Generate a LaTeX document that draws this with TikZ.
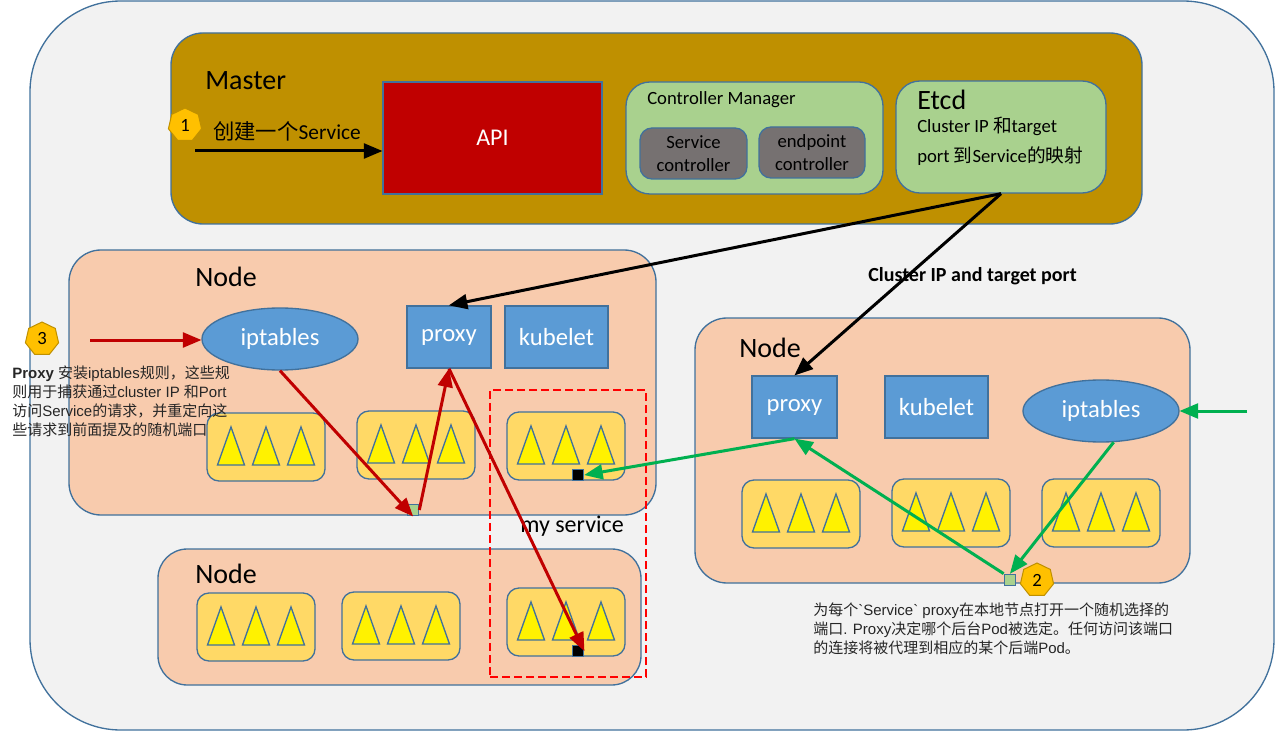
\documentclass[tikz,border=0pt]{standalone}
\usepackage{fontspec}
\setmainfont{Carlito}
\newfontfamily\cjk{Noto Sans CJK SC}
\newfontfamily\arialfont{Liberation Sans}
\usetikzlibrary{arrows,shapes.geometric}
\definecolor{lineblue}{HTML}{41719C}
\definecolor{panelgrey}{HTML}{F2F2F2}
\definecolor{masterfill}{HTML}{BF9000}
\definecolor{nodefill}{HTML}{F8CBAD}
\definecolor{ctrlfill}{HTML}{A9D18E}
\definecolor{darkfill}{HTML}{767171}
\definecolor{apired}{HTML}{C00000}
\definecolor{boxblue}{HTML}{5B9BD5}
\definecolor{podfill}{HTML}{FFD966}
\definecolor{flowgreen}{HTML}{00B050}
\definecolor{badgefill}{HTML}{FFC000}
\definecolor{badgeline}{HTML}{BF9000}
\tikzset{
  spanbox/.style n args={4}{at={({(#1+#3)/2},{(#2+#4)/2})},minimum width={(#3-#1)*0.75pt},minimum height={(#4-#2)*0.75pt}},
  shape box/.style={draw=lineblue,line width=1pt,inner sep=0pt,rectangle},
  node box/.style={shape box,fill=nodefill,rounded corners=24pt},
  inner box/.style={shape box,fill=ctrlfill,rounded corners=18pt},
  grey box/.style={shape box,fill=darkfill,rounded corners=9pt,text=black,align=center,font=\fontsize{14}{17}\selectfont},
  pod box/.style={shape box,fill=podfill,rounded corners=9pt},
  blue box/.style={shape box,fill=boxblue,text=white,font=\fontsize{18.5}{22}\selectfont},
  blue oval/.style={draw=lineblue,line width=1pt,fill=boxblue,ellipse,inner sep=0pt,minimum width=117pt,minimum height=46.5pt,text=white,font=\fontsize{18.5}{22}\selectfont},
  pod tri/.style={draw=lineblue,line width=1pt,fill=yellow,line join=miter},
  port box/.style={shape box,minimum size=8.5pt},
  badge/.style={regular polygon,regular polygon sides=7,minimum size=25.5pt,inner sep=0pt,fill=badgefill,draw=badgeline,line width=.75pt,font=\fontsize{14}{16}\selectfont},
  label/.style={inner sep=0pt,anchor=west},
  big label/.style={label,font=\fontsize{21}{25}\selectfont},
  note/.style={inner sep=0pt,anchor=north west,align=left,text=black!85,font=\arialfont\fontsize{11.25}{14.25}\selectfont},
  flow/.style={->,line width=2.25pt},
}
\begin{document}
\begin{tikzpicture}[>=triangle 45,x=0.75pt,y=-0.75pt]
\useasboundingbox (0,0) rectangle (1275,731);
\node[shape box,fill=panelgrey,rounded corners=68pt,spanbox={30}{1}{1274}{730}] (panel) {};
% master
\node[node box,fill=masterfill,spanbox={171}{33}{1142}{224}] (master) {};
\node[big label] (mastertxt) at (205,81) {Master};
\node[shape box,fill=apired,text=white,font=\fontsize{18}{22}\selectfont,spanbox={383}{82}{602}{194}] (api) {API};
\node[inner box,spanbox={626}{82}{883}{194}] (manager) {};
\node[label,font=\fontsize{14}{17}\selectfont] (managertxt) at (647,100) {Controller Manager};
\node[grey box,spanbox={640}{128}{747}{179}] (svcctrl) {Service\\controller};
\node[grey box,spanbox={759}{127}{865}{178}] (epctrl) {endpoint\\controller};
\node[inner box,spanbox={896}{81}{1106}{193}] (etcd) {};
\node[big label] (etcdtxt) at (917,100) {Etcd};
\node[inner sep=0pt,anchor=north west,align=left,font=\fontsize{14}{22.5}\selectfont] (etcdnote) at (917,117) {Cluster IP {\cjk 和}target\\port {\cjk 到}Service{\cjk 的映射}};
\node[label,font=\fontsize{16}{19}\selectfont] (createtxt) at (213,131) {{\cjk 创建一个}Service};
% nodes
\node[node box,spanbox={69}{250}{656}{515}] (nodea) {};
\node[node box,rounded corners=22pt,spanbox={158}{549}{641}{685}] (nodeb) {};
\node[node box,spanbox={695}{318}{1190}{583}] (nodec) {};
\node[big label] (nodeatxt) at (195,277) {Node};
\node[big label] (nodebtxt) at (195,574) {Node};
\node[big label] (nodectxt) at (739,348) {Node};
\node[blue oval] (iptablesa) at (280,339) {iptables};
\node[blue box,spanbox={407}{306}{491}{368}] (proxya) {proxy};
\node[blue box,spanbox={505}{306}{608}{368}] (kubeleta) {kubelet};
\node[blue box,spanbox={752}{376}{837}{438}] (proxyc) {proxy};
\node[blue box,spanbox={885}{376}{988}{438}] (kubeletc) {kubelet};
\node[blue oval] (iptablesc) at (1101,411) {iptables};
% pods
\foreach \podname/\podl/\podt in {poda/207/413,podb/357/411,podc/507/412,podd/197/593,pode/342/592,podf/507/588,podg/742/480,podh/892/479,podi/1042/479}{
  \node[pod box,spanbox={\podl}{\podt}{\podl+118}{\podt+68}] (\podname) {};
  \foreach \tx in {-35,0,35}
    \draw[pod tri] ([shift={(\tx,-20)}]\podname.center) -- ([shift={(\tx+13.5,18)}]\podname.center) -- ([shift={(\tx-13.5,18)}]\podname.center) -- cycle;
}
% ports
\node[port box,fill=ctrlfill!50!green!70!black!90,fill=ctrlfill] (porta) at (413,510) {};
\node[port box,fill=black] (portb) at (578,475) {};
\node[port box,fill=black] (portc) at (578,651) {};
\node[port box,fill=ctrlfill] (portd) at (1010,580) {};
\node[draw=red,line width=1.5pt,dash pattern=on 6pt off 3pt,inner sep=0pt,rectangle,spanbox={490}{390}{646}{677}] (svcbox) {};
\node[inner sep=0pt,font=\fontsize{18}{22}\selectfont] (svctxt) at (572,526) {my service};
% flows
\coordinate (createstart) at (195,151);
\coordinate (redstart) at (90,340);
\coordinate (greenstart) at (1247,411);
\draw[flow] (createstart) -- (createstart -| api.west);
\draw[flow] (etcd.south) -- (proxya.north);
\draw[flow] (etcd.south) -- (proxyc.north);
\draw[flow,apired] (redstart) -- (iptablesa.west |- redstart);
\draw[flow,apired] (iptablesa.south) -- (porta.south);
\draw[flow,apired] (porta.east) -- (proxya.south);
\draw[flow,apired] (proxya.south) -- (portc.east);
\draw[flow,flowgreen] (proxyc.south) -- (portb.east);
\draw[flow,flowgreen] (portd.north west) -- (proxyc.south);
\draw[flow,flowgreen] (iptablesc.292) -- (portd.north);
\draw[flow,flowgreen] (greenstart) -- (iptablesc.east);
% badges and notes
\node[badge] (badgea) at (185,125) {1};
\node[badge] (badgeb) at (1037,580) {2};
\node[badge] (badgec) at (42,339) {3};
\node[label,font=\bfseries\fontsize{15}{18}\selectfont] (porttxt) at (868,276) {Cluster IP and target port};
\node[note] (notea) at (12,366) {{\bfseries Proxy} {\cjk 安装}iptables{\cjk 规则，这些规}\\{\cjk 则用于捕获通过}cluster IP {\cjk 和}Port\\{\cjk 访问}Service{\cjk 的请求，并重定向这}\\{\cjk 些请求到前面提及的随机端口}};
\node[note] (noteb) at (813,603) {{\cjk 为每个}`Service` proxy{\cjk 在本地节点打开一个随机选择的}\\{\cjk 端口}. Proxy{\cjk 决定哪个后台}Pod{\cjk 被选定。任何访问该端口}\\{\cjk 的连接将被代理到相应的某个后端}Pod{\cjk 。}};
\end{tikzpicture}
\end{document}
